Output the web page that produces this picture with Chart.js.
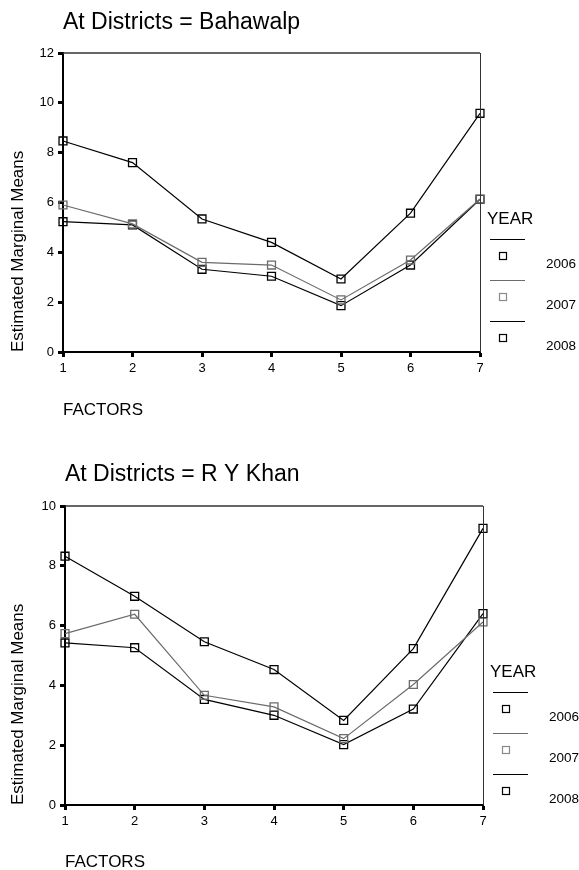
<!DOCTYPE html>
<html>
<head>
<meta charset="utf-8">
<title>Estimated Marginal Means by District</title>
<script src="https://cdn.jsdelivr.net/npm/chart.js@4.4.0/dist/chart.umd.min.js"></script>
<style>
  html, body { margin: 0; padding: 0; background: #fff; overflow: hidden; }
  .panel { position: relative; width: 579px; height: 452px; }
</style>
</head>
<body>
<div class="panel"><canvas id="chartBahawalpur"></canvas></div>
<div class="panel"><canvas id="chartRYKhan"></canvas></div>
<script>
// Data
const factors = ["1", "2", "3", "4", "5", "6", "7"];
const years = ["2006", "2007", "2008"];
const legendTitle = "YEAR";

const bahawalpurYTicks = [0, 2, 4, 6, 8, 10, 12];
const bahawalpur2006 = [8.47, 7.6, 5.34, 4.4, 2.93, 5.57, 9.58];
const bahawalpur2007 = [5.9, 5.14, 3.6, 3.49, 2.09, 3.69, 6.14];
const bahawalpur2008 = [5.23, 5.1, 3.32, 3.04, 1.86, 3.49, 6.13];

const ryKhanYTicks = [0, 2, 4, 6, 8, 10];
const ryKhan2006 = [8.32, 6.98, 5.46, 4.53, 2.83, 5.23, 9.25];
const ryKhan2007 = [5.73, 6.38, 3.67, 3.28, 2.22, 4.03, 6.12];
const ryKhan2008 = [5.42, 5.26, 3.53, 3.0, 2.02, 3.21, 6.4];

const FONT = "'Liberation Sans', Arial, Helvetica, sans-serif";
Chart.defaults.font.family = FONT;
Chart.defaults.color = "#000";

const lineColors = ["#000000", "#6b6b6b", "#000000"];
const legendSquareColors = ["#000000", "#8a8a8a", "#000000"];

// title, frame (top/right) and the SPSS style legend on the right
const decorations = {
  id: "decorations",
  afterDraw(chart, args, opts) {
    const ctx = chart.ctx;
    const area = chart.chartArea;
    ctx.save();

    ctx.fillStyle = "#000";
    ctx.textAlign = "left";
    ctx.textBaseline = "middle";
    ctx.font = "23px " + FONT;
    ctx.fillText(opts.title, area.left, 23);

    // frame
    ctx.strokeStyle = "#333";
    ctx.lineWidth = 1.5;
    ctx.beginPath();
    ctx.moveTo(area.left, area.top);
    ctx.lineTo(area.right, area.top);
    ctx.stroke();
    ctx.lineWidth = 1;
    ctx.beginPath();
    ctx.moveTo(area.right + 0.5, area.top);
    ctx.lineTo(area.right + 0.5, area.bottom);
    ctx.stroke();

    // legend
    const x0 = area.right;
    const y0 = area.top;
    ctx.font = "17px " + FONT;
    ctx.fillText(legendTitle, x0 + 7, y0 + 166);
    ctx.font = "13.5px " + FONT;
    chart.data.datasets.forEach((ds, i) => {
      const yy = Math.round(y0 + 186 + i * 41) + 0.5;
      ctx.strokeStyle = ds.borderColor;
      ctx.lineWidth = 1;
      ctx.beginPath();
      ctx.moveTo(x0 + 10, yy);
      ctx.lineTo(x0 + 45, yy);
      ctx.stroke();
      ctx.strokeStyle = legendSquareColors[i];
      ctx.lineWidth = 1.2;
      ctx.strokeRect(x0 + 19.5, yy + 13, 7, 7);
      ctx.fillStyle = "#000";
      ctx.fillText(ds.label, x0 + 66, yy + 25);
    });
    ctx.restore();
  }
};

function makeChart(canvasId, title, series, yTicks, box) {
  const ctx = document.getElementById(canvasId);
  if (!ctx) return;

  new Chart(ctx, {
    type: "line",
    data: {
      labels: factors,
      datasets: series.map((values, i) => ({
        label: years[i],
        data: values,
        borderColor: lineColors[i],
        borderWidth: 1.2,
        backgroundColor: "transparent",
        pointStyle: "rect",
        pointRadius: 5.6,
        pointBorderWidth: 1.3,
        pointBorderColor: lineColors[i],
        pointBackgroundColor: "transparent",
        tension: 0,
        fill: false,
      })),
    },
    options: {
      responsive: true,
      maintainAspectRatio: false,
      animation: false,
      layout: {
        padding: { top: box.top, right: box.right, left: 0, bottom: 0 },
      },
      plugins: {
        legend: { display: false },
        tooltip: { enabled: false },
        decorations: { title: title },
      },
      scales: {
        x: {
          grid: { drawOnChartArea: false, tickLength: 5, tickWidth: 3, tickColor: "#000" },
          border: { color: "#000", width: 2 },
          ticks: { color: "#000", font: { size: 13 }, padding: 4, maxRotation: 0 },
          title: {
            display: true,
            text: "FACTORS",
            align: "start",
            color: "#000",
            font: { size: 17 },
            padding: { top: 0, bottom: 31 },
          },
          afterFit: (s) => { s.height = box.bottom; },
        },
        y: {
          min: yTicks[0],
          max: yTicks[yTicks.length - 1],
          afterBuildTicks: (s) => { s.ticks = yTicks.map((v) => ({ value: v })); },
          grid: { drawOnChartArea: false, tickLength: 5, tickWidth: 3, tickColor: "#000" },
          border: { color: "#000", width: 2 },
          ticks: { color: "#000", font: { size: 13 }, padding: 4 },
          title: {
            display: true,
            text: "Estimated Marginal Means",
            align: "start",
            color: "#000",
            font: { size: 17 },
            padding: { top: 8, bottom: 0 },
          },
          afterFit: (s) => { s.width = box.left; },
        },
      },
    },
    plugins: [decorations],
  });
}

makeChart(
  "chartBahawalpur",
  "At Districts = Bahawalp",
  [bahawalpur2006, bahawalpur2007, bahawalpur2008],
  bahawalpurYTicks,
  { top: 53, right: 99, left: 63, bottom: 100 }
);

makeChart(
  "chartRYKhan",
  "At Districts = R Y Khan",
  [ryKhan2006, ryKhan2007, ryKhan2008],
  ryKhanYTicks,
  { top: 54, right: 96, left: 65, bottom: 99 }
);
</script>
</body>
</html>
